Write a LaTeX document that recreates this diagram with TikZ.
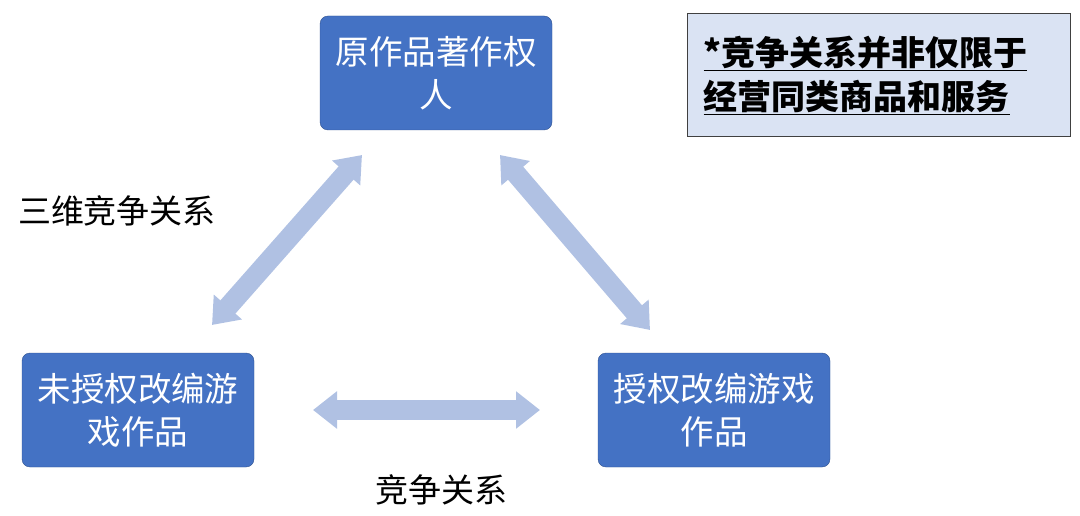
\documentclass[tikz,border=0pt]{standalone}
\usepackage{fontspec}
\setmainfont{Noto Sans CJK SC}
\usepackage{xcolor}
\usetikzlibrary{arrows.meta}
\definecolor{boxblue}{HTML}{4472C4}
\definecolor{boxedge}{HTML}{2F528F}
\definecolor{arrowblue}{HTML}{B0C1E3}
\definecolor{notefill}{HTML}{DAE3F3}

\begin{document}
\begin{tikzpicture}[x=1pt,y=-1pt,
  party/.style={draw=boxedge,fill=boxblue,rounded corners=8pt,text=white,
    minimum width=232pt,minimum height=114pt,text width=214pt,align=center,
    font=\fontsize{33.5}{43}\selectfont},
  relation/.style={line width=20pt,draw=arrowblue,
    {Triangle[width=36pt,length=24pt]}-{Triangle[width=36pt,length=24pt]}},
  label/.style={font=\fontsize{33}{38}\selectfont}]
\useasboundingbox (0,0) rectangle (1080,516);

\node[party] (owner) at (436,73) {原作品著作权\\人};
\node[party] (pirate) at (138,410) {未授权改编游\\戏作品};
\node[party] (licensed) at (714,410) {授权改编游戏\\作品};

\node[draw=black!75,fill=notefill,line width=1.2pt,minimum width=383pt,minimum height=123pt,
  text width=351pt,inner sep=16pt,align=left,font=\fontsize{34}{44}\selectfont\bfseries]
  (note) at (879,75) {\underline{*竞争关系并非仅限于}\\\underline{经营同类商品和服务}};

\coordinate (ownerL) at (362,155);
\coordinate (pirateT) at (212,325);
\coordinate (ownerR) at (500,155);
\coordinate (licensedT) at (650,330);
\coordinate (pirateR) at (540,410);
\coordinate (licensedL) at (313,410);

\draw[relation] (pirateT) -- (ownerL);
\draw[relation] (ownerR) -- (licensedT);
\draw[relation] (licensedL) -- (pirateR);

\node[label] (threeway) at (117,211) {三维竞争关系};
\node[label] (compete) at (441,490) {竞争关系};

\end{tikzpicture}
\end{document}
